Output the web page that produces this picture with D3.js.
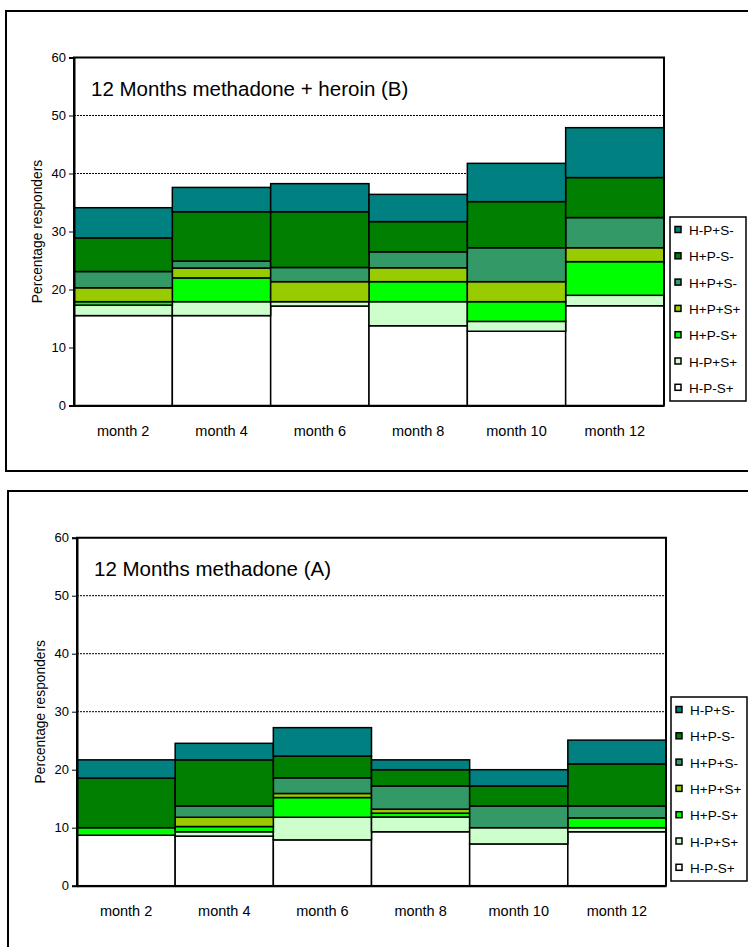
<!DOCTYPE html>
<html><head><meta charset="utf-8">
<script src="https://cdn.jsdelivr.net/npm/d3@7"></script>
<style>body{margin:0;background:#fff;} svg{display:block;font-family:"Liberation Sans",Arial,sans-serif;}</style>
</head><body>
<svg id="c" width="748" height="947"></svg>
<script>
const months = ["month 2","month 4","month 6","month 8","month 10","month 12"];
// stacking order bottom -> top
const seriesKeys = ["H-P-S+","H-P+S+","H+P-S+","H+P+S+","H+P+S-","H+P-S-","H-P+S-"];
const seriesColors = ["#FFFFFF","#CCFFCC","#00FF00","#99CC00","#339966","#007F00","#008080"];
const yTicks = [0,10,20,30,40,50,60];

// Chart B: 12 Months methadone + heroin (values per series, per month)
const heroinB = {
  "H-P-S+": [15.5, 15.5, 17.15, 13.75, 12.8, 17.2],
  "H-P+S+": [1.8, 2.4, 0.75, 4.15, 1.7, 1.8],
  "H+P-S+": [0.6, 4.1, 0.0, 3.45, 3.4, 5.8],
  "H+P+S+": [2.4, 1.7, 3.45, 2.4, 3.45, 2.4],
  "H+P+S-": [2.8, 1.2, 2.45, 2.75, 5.85, 5.2],
  "H+P-S-": [5.8, 8.5, 9.6, 5.2, 7.95, 6.9],
  "H-P+S-": [5.2, 4.2, 4.85, 4.7, 6.6, 8.6]
};
// Chart A: 12 Months methadone
const methadoneA = {
  "H-P-S+": [8.7, 8.55, 7.9, 9.3, 7.2, 9.3],
  "H-P+S+": [0.0, 0.75, 3.9, 2.55, 2.8, 0.7],
  "H+P-S+": [1.3, 0.9, 3.4, 0.65, 0.0, 1.7],
  "H+P+S+": [0.0, 1.6, 0.7, 0.7, 0.0, 0.0],
  "H+P+S-": [0.0, 1.95, 2.7, 4.0, 3.75, 2.05],
  "H+P-S-": [8.55, 7.95, 3.75, 2.8, 3.45, 7.25],
  "H-P+S-": [3.15, 2.85, 4.9, 1.7, 2.8, 4.1]
};

const svg = d3.select("#c");
const FONT = "Liberation Sans, Arial, sans-serif";

function drawChart(cfg){
  const g = svg.append("g");
  // outer frame
  g.append("rect").attr("x",cfg.frame[0]).attr("y",cfg.frame[1]).attr("width",cfg.frame[2]).attr("height",cfg.frame[3])
    .attr("fill","none").attr("stroke","#000").attr("stroke-width",2);

  const x = d3.scaleBand().domain(months).range([cfg.left, cfg.right]).padding(0);
  const y = d3.scaleLinear().domain([0,60]).range([cfg.bottom, cfg.top]);

  // gridlines
  g.append("g").selectAll("line").data(yTicks.filter(t=>t>0 && t<60)).join("line")
    .attr("x1",cfg.left).attr("x2",cfg.right).attr("y1",d=>y(d)).attr("y2",d=>y(d))
    .attr("stroke","#000").attr("stroke-width",1).attr("stroke-dasharray","2,1");

  // data rows
  const rows = months.map((m,i)=>{const r={month:m}; seriesKeys.forEach(k=>r[k]=cfg.data[k][i]); return r;});
  const stack = d3.stack().keys(seriesKeys)(rows);
  const color = d3.scaleOrdinal().domain(seriesKeys).range(seriesColors);

  g.append("g").selectAll("g").data(stack).join("g").attr("fill",d=>color(d.key))
    .selectAll("rect").data(d=>d).join("rect")
    .attr("x",d=>x(d.data.month)).attr("width",x.bandwidth())
    .attr("y",d=>y(d[1])).attr("height",d=>Math.max(0,y(d[0])-y(d[1])))
    .attr("stroke","#000").attr("stroke-width",1.5);

  // plot border (top, right, left)
  g.append("path").attr("d",`M${cfg.left},${cfg.bottom}V${cfg.top}H${cfg.right}V${cfg.bottom}`)
    .attr("fill","none").attr("stroke","#000").attr("stroke-width",2);

  // y axis
  const ya = g.append("g").attr("transform",`translate(${cfg.left},0)`)
    .call(d3.axisLeft(y).tickValues(yTicks).tickSize(5).tickPadding(3));
  ya.select(".domain").attr("stroke-width",2);
  ya.selectAll("text").attr("font-size",13).attr("font-family",FONT).attr("fill","#000");

  // x axis
  const xa = g.append("g").attr("transform",`translate(0,${cfg.bottom})`)
    .call(d3.axisBottom(x).tickSize(0).tickPadding(20));
  xa.select(".domain").attr("stroke-width",2);
  xa.selectAll("text").attr("font-size",14.5).attr("font-family",FONT).attr("fill","#000");

  // y label
  g.append("text").attr("transform",`translate(${cfg.ylabX},${(cfg.top+cfg.bottom)/2}) rotate(-90)`)
    .attr("text-anchor","middle").attr("font-size",13.8).text("Percentage responders");

  // title
  g.append("text").attr("x",cfg.left+17).attr("y",cfg.top+38).attr("font-size",20.5).text(cfg.title);

  // legend
  const lg = g.append("g");
  lg.append("rect").attr("x",cfg.legX).attr("y",cfg.legY).attr("width",76).attr("height",184)
    .attr("fill","#fff").attr("stroke","#000").attr("stroke-width",1.5);
  const items = seriesKeys.slice().reverse();
  const it = lg.selectAll("g").data(items).join("g")
    .attr("transform",(d,i)=>`translate(${cfg.legX+5},${cfg.legY+13+i*26.3})`);
  it.append("rect").attr("x",0).attr("y",-3.5).attr("width",6).attr("height",6)
    .attr("fill",d=>color(d)).attr("stroke","#000").attr("stroke-width",1.5);
  it.append("text").attr("x",14).attr("y",5).attr("font-size",13.5).text(d=>d);
}

drawChart({frame:[6,11,760,460], left:74, right:664, top:57.5, bottom:405.5, ylabX:42,
  title:"12 Months methadone + heroin (B)", data:heroinB, legX:670, legY:217});
drawChart({frame:[8,491,760,470], left:77, right:666, top:537.7, bottom:885.7, ylabX:45,
  title:"12 Months methadone (A)", data:methadoneA, legX:671, legY:697});
</script>
</body></html>
